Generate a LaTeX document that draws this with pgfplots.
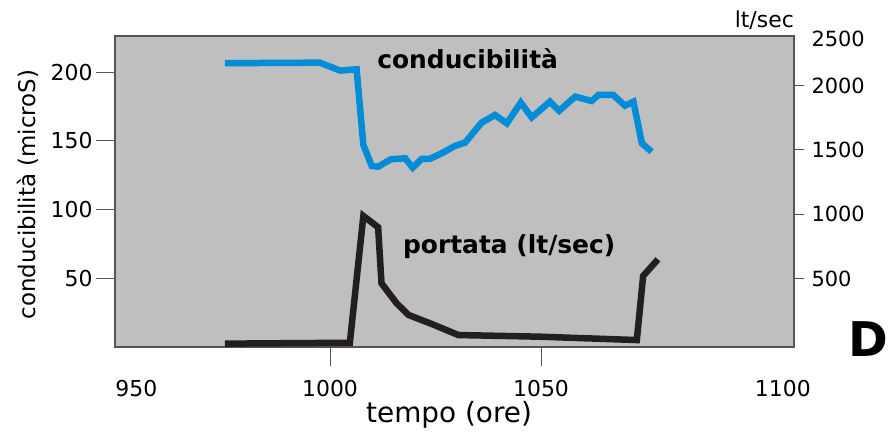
\documentclass[border=0pt]{standalone}
\usepackage{pgfplots}
\pgfplotsset{compat=1.18}
\usepackage{fontspec}
\setmainfont{DejaVu Sans}
\definecolor{bgray}{RGB}{191,191,191}
\definecolor{cblue}{RGB}{0,140,214}
\definecolor{cblack}{RGB}{35,31,32}
\definecolor{frame}{RGB}{85,85,85}

\pgfplotstableread{
x y
975.1 206.5
997.6 206.9
1002.4 201.1
1006.3 202.1
1007.3 167.7
1007.9 147.0
1009.9 131.7
1011.4 131.2
1014.4 136.6
1017.8 137.3
1019.6 130.5
1021.7 136.8
1023.7 137.0
1026.1 140.4
1029.6 146.3
1032.0 148.7
1035.9 163.2
1039.1 168.8
1041.9 162.8
1045.2 177.8
1047.8 167.1
1052.1 178.5
1054.3 171.9
1058.1 182.2
1062.0 179.0
1063.6 183.4
1067.1 183.4
1069.9 175.6
1071.9 178.5
1073.9 148.2
1076.2 142.1
}\conduc

\pgfplotstableread{
x y
975.1 -5
1004.7 2
1007.9 987
1011.4 899
1012.2 464
1015.8 308
1018.6 218
1024.1 148
1030.4 62
1049.8 49
1072.7 23
1074.2 521
1077.7 650
}\portata

\begin{document}
\begin{tikzpicture}[x=1bp,y=1bp]
\path[use as bounding box] (0,0) rectangle (896,432);
\begin{axis}[
  at={(115bp,85bp)}, anchor=south west,
  scale only axis, width=679bp, height=311bp,
  xmin=949.05, xmax=1109.95, ymin=0, ymax=226.3,
  clip=false,
  axis background/.style={fill=bgray},
  axis line style={frame, line width=1.2bp},
  xtick pos=bottom, ytick pos=left,
  tick align=outside,
  major tick length=19bp,
  tick style={frame, line width=1bp},
  xtick={1000,1050},
  xticklabels={1000,1050},
  extra x ticks={954.1,1107.3},
  extra x tick labels={950,1100},
  extra x tick style={major tick style={draw=none}},
  ytick={50,100,150,200},
  yticklabels={50,100,150,200},
  tick label style={font=\fontsize{22}{26}\selectfont, text=black},
  xticklabel style={yshift=-11bp},
  xlabel={tempo (ore)},
  xlabel style={at={(axis description cs:0.492,-0.244)}, anchor=base, font=\fontsize{28}{32}\selectfont},
  ylabel={conducibilità (microS)},
  ylabel style={at={(axis description cs:-0.128,0.49)}, anchor=center, font=\fontsize{23}{27}\selectfont},
]
\addplot[cblue, line width=6.5bp, no markers] table[x=x,y=y] {\conduc};
\node[anchor=base west, inner sep=0, font=\fontsize{25}{30}\selectfont\bfseries] at (rel axis cs:0.386,0.894) {conducibilità};
\node[anchor=base west, inner sep=0, font=\fontsize{25}{30}\selectfont\bfseries] at (rel axis cs:0.424,0.302) {portata (lt/sec)};
\node[anchor=base west, inner sep=0, font=\fontsize{48}{56}\selectfont\bfseries] at (rel axis cs:1.080,-0.032) {D};
\end{axis}
\begin{axis}[
  at={(115bp,85bp)}, anchor=south west,
  scale only axis, width=679bp, height=311bp,
  xmin=949.05, xmax=1109.95, ymin=-31, ymax=2385,
  clip=false,
  hide x axis,
  axis y line*=right,
  axis line style={frame, line width=1.2bp},
  tick align=outside,
  major tick length=10bp,
  tick style={frame, line width=1bp},
  ytick={500,1000,1500,2000},
  yticklabels={500,1000,1500,2000},
  extra y ticks={2362},
  extra y tick labels={2500},
  extra y tick style={major tick style={draw=none}},
  tick label style={font=\fontsize{21}{25}\selectfont, text=black},
  yticklabel style={xshift=4bp},
]
\addplot[cblack, line width=6.5bp, no markers] table[x=x,y=y] {\portata};
\node[anchor=base east, inner sep=0, font=\fontsize{22}{26}\selectfont] at (rel axis cs:1,1.026) {lt/sec};
\end{axis}
\end{tikzpicture}
\end{document}
